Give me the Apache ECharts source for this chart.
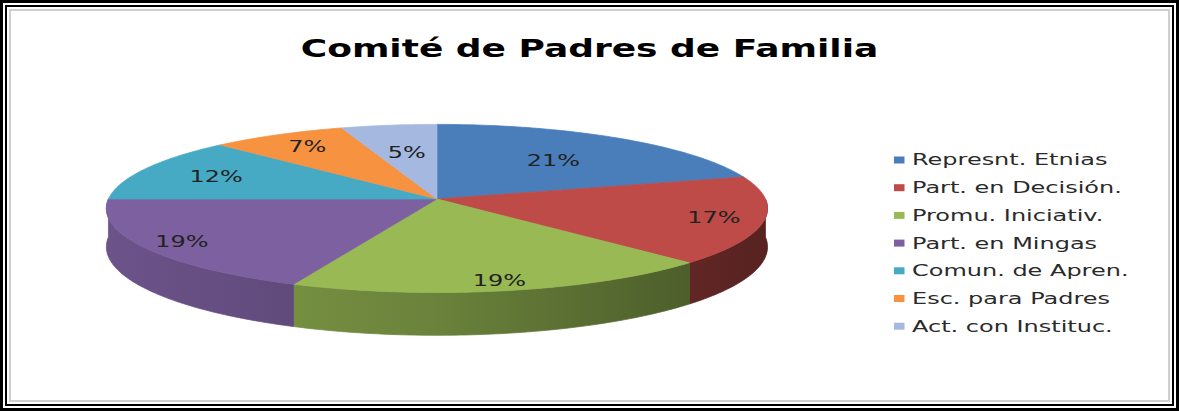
<!DOCTYPE html>
<html>
<head>
<meta charset="utf-8">
<script src="https://cdn.jsdelivr.net/npm/echarts@6/dist/echarts.min.js"></script>
<style>
  html, body { margin: 0; padding: 0; background: #fff; }
  #wrap { position: absolute; left: 0; top: 0; width: 1179px; height: 411px; overflow: hidden; background: #fff; }
  #chart { position: absolute; left: 0; top: 0; width: 786px; height: 411px; transform: scaleX(1.5); transform-origin: 0 0; }
  .b { position: absolute; pointer-events: none; box-sizing: border-box; }
  #b1 { left: 0; top: 0; width: 1179px; height: 411px; border: 3px solid #000; }
  #b2 { left: 5px; top: 5px; width: 1169px; height: 401px; border: 2px solid #000; }
  #b3 { left: 9px; top: 9px; width: 1161px; height: 393px; border: 2px solid #cfcfcf; }
</style>
</head>
<body>
<div id="wrap">
  <div id="chart"></div>
  <div class="b" id="b1"></div>
  <div class="b" id="b2"></div>
  <div class="b" id="b3"></div>
</div>
<script>
// ---- data ----
const titleText = 'Comité de Padres de Familia';
const categories = ['Represnt. Etnias', 'Part. en Decisión.', 'Promu. Iniciativ.', 'Part. en Mingas', 'Comun. de Apren.', 'Esc. para Padres', 'Act. con Instituc.'];
const values = [20.6, 16.9, 18.9, 18.6, 12.4, 7.4, 5.2];

// ---- style / layout ----
const colors = ['#4a7ebb', '#be4b48', '#98b954', '#7d60a0', '#46aac5', '#f69240', '#a5b9e0'];
const labelDist = [0.62, 0.85, 0.9, 0.88, 0.75, 0.8, 0.6];
const geom = { cx: 291.3, cy: 199, W: 219, H: 83, u: 0.1123, D0: 38 };
const FONT = '"DejaVu Sans", Verdana, sans-serif';

const total = values.reduce((a, b) => a + b, 0);

function P(th, f) {
  const c = Math.cos(th), s = Math.sin(th);
  const k = 1 + geom.u * f * c;
  return [geom.cx + geom.W * f * s / k, geom.cy - geom.H * f * c / k];
}
function depth(th) { return geom.D0 / (1 + geom.u * Math.cos(th)); }
function shade(hex, f) {
  const n = parseInt(hex.slice(1), 16);
  const r = Math.round(((n >> 16) & 255) * f), g = Math.round(((n >> 8) & 255) * f), b = Math.round((n & 255) * f);
  return 'rgb(' + r + ',' + g + ',' + b + ')';
}

function makeRender(i) {
  return function (params, api) {
    let before = 0;
    for (let j = 0; j < i; j++) before += values[j];
    const v = api.value(0);
    const a0 = before / total * Math.PI * 2;
    const a1 = (before + v) / total * Math.PI * 2;
    const n = Math.max(2, Math.ceil((a1 - a0) / (Math.PI / 180)));
    const arc = [];
    for (let k = 0; k <= n; k++) {
      const th = a0 + (a1 - a0) * k / n;
      arc.push(P(th, 1));
    }
    const topPts = [[geom.cx, geom.cy]].concat(arc);
    const children = [];
    // outer wall, only on the front half
    const w0 = Math.max(a0, Math.PI / 2), w1 = Math.min(a1, Math.PI * 1.5);
    if (w1 - w0 > 1e-4) {
      const m = Math.max(2, Math.ceil((w1 - w0) / (Math.PI / 180)));
      const up = [], low = [];
      for (let k = 0; k <= m; k++) {
        const th = w0 + (w1 - w0) * k / m;
        const p = P(th, 1);
        up.push(p);
        low.push([p[0], p[1] + depth(th)]);
      }
      const xL = geom.cx - geom.W * 1.01, xR = geom.cx + geom.W * 1.01;
      const grad = new echarts.graphic.LinearGradient(xL, 0, xR, 0, [
        { offset: 0, color: shade(colors[i], 0.86) },
        { offset: 0.5, color: shade(colors[i], 0.7) },
        { offset: 1, color: shade(colors[i], 0.45) }
      ], true);
      children.push({ type: 'polygon', shape: { points: up.concat(low.reverse()) }, style: { fill: grad, stroke: grad, lineWidth: 0.6 }, z2: 1 });
    }
    children.push({ type: 'polygon', shape: { points: topPts }, style: { fill: colors[i], stroke: colors[i], lineWidth: 0.6 }, z2: 2 });
    const mid = (a0 + a1) / 2;
    const lp = P(mid, labelDist[i]);
    const pct = Math.round(v / total * 100) + '%';
    children.push({ type: 'text', z2: 3, style: { text: pct, x: lp[0], y: lp[1], align: 'center', verticalAlign: 'middle', font: '16px ' + FONT, fill: '#222' } });
    return { type: 'group', children: children };
  };
}

const chart = echarts.init(document.getElementById('chart'), null, { renderer: 'svg', width: 786, height: 411 });
chart.setOption({
  animation: false,
  backgroundColor: '#fff',
  title: {
    text: titleText,
    left: 'center',
    top: 37,
    padding: 0,
    textStyle: { fontFamily: FONT, fontSize: 24, fontWeight: 'bold', color: '#000' }
  },
  legend: {
    orient: 'vertical',
    left: 591,
    top: 146,
    itemWidth: 7,
    itemHeight: 7,
    itemGap: 9.7,
    icon: 'rect',
    data: categories,
    selectedMode: false,
    textStyle: { fontFamily: FONT, fontSize: 16, color: '#2a2a2a', lineHeight: 18, padding: [0, 0, 0, 0] }
  },
  series: categories.map((name, i) => ({
    type: 'custom',
    name: name,
    coordinateSystem: 'none',
    silent: true,
    itemStyle: { color: colors[i] },
    data: [[values[i]]],
    renderItem: makeRender(i)
  }))
});
</script>
</body>
</html>
